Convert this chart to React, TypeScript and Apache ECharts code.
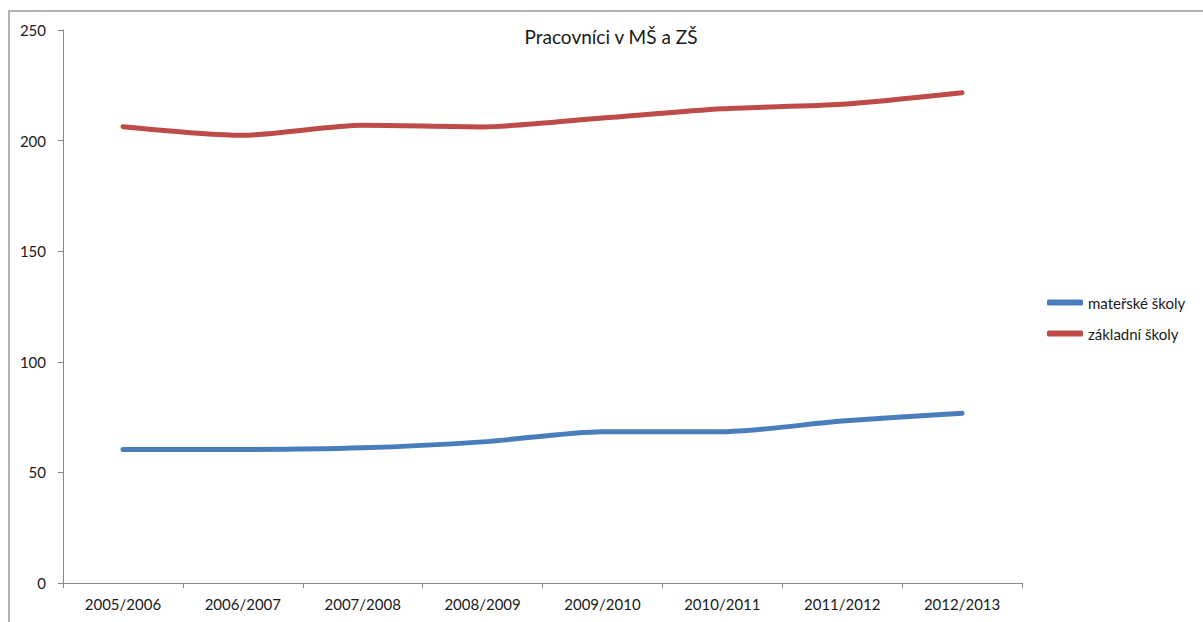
import React, { useEffect, useRef } from "react";
import * as echarts from "echarts";

const categories = ["2005/2006", "2006/2007", "2007/2008", "2008/2009", "2009/2010", "2010/2011", "2011/2012", "2012/2013"];
const materske = [60.4, 60.4, 61.1, 63.8, 68.4, 68.4, 73.2, 76.7];
const zakladni = [206.3, 202.4, 206.9, 206.2, 210.2, 214.4, 216.4, 221.6];
const seriesNames = ["mateřské školy", "základní školy"];
const titleText = "Pracovníci v MŠ a ZŠ";

const FONT = "Lato, 'Open Sans', sans-serif";

export default function App() {
  const ref = useRef<HTMLDivElement>(null);
  useEffect(() => {
    if (!ref.current) return;
    const chart = echarts.init(ref.current, undefined, { renderer: "svg" });
    chart.setOption({
      animation: false,
      backgroundColor: "#ffffff",
      textStyle: { fontFamily: FONT },
      title: {
        text: titleText,
        left: 611,
        textAlign: "center",
        top: 27,
        padding: 0,
        textStyle: { fontFamily: FONT, fontSize: 19, fontWeight: "normal", color: "#1a1a1a" },
      },
      graphic: [
        {
          type: "rect",
          shape: { x: 9, y: 11, width: 1210, height: 630 },
          style: { fill: "none", stroke: "#b3b3b3", lineWidth: 2 },
          silent: true,
        },
      ],
      legend: {
        orient: "vertical",
        left: 1047,
        top: 295,
        padding: 0,
        itemWidth: 36,
        itemHeight: 6,
        itemGap: 16,
        icon: "roundRect",
        data: seriesNames,
        textStyle: { fontFamily: FONT, fontSize: 15, color: "#1a1a1a", lineHeight: 14 },
      },
      grid: { left: 63, top: 30, right: 181, bottom: 39, containLabel: false },
      xAxis: {
        type: "category",
        data: categories,
        boundaryGap: true,
        axisLine: { lineStyle: { color: "#868686", width: 1 } },
        axisTick: { show: true, length: 5, lineStyle: { color: "#868686" } },
        axisLabel: { margin: 13, fontFamily: FONT, fontSize: 15, color: "#1a1a1a", interval: 0 },
        splitLine: { show: false },
      },
      yAxis: {
        type: "value",
        min: 0,
        max: 250,
        interval: 50,
        axisLine: { show: true, lineStyle: { color: "#868686", width: 1 } },
        axisTick: { show: true, length: 5, lineStyle: { color: "#868686" } },
        axisLabel: { margin: 17, fontFamily: FONT, fontSize: 15, color: "#1a1a1a" },
        splitLine: { show: false },
      },
      series: [
        {
          name: seriesNames[0],
          type: "line",
          data: materske,
          smooth: 0.25,
          symbol: "none",
          lineStyle: { color: "#4a7ebb", width: 5, cap: "round" },
          itemStyle: { color: "#4a7ebb" },
        },
        {
          name: seriesNames[1],
          type: "line",
          data: zakladni,
          smooth: 0.25,
          symbol: "none",
          lineStyle: { color: "#be4b48", width: 5, cap: "round" },
          itemStyle: { color: "#be4b48" },
        },
      ],
    });
    return () => chart.dispose();
  }, []);
  return (
    <div
      ref={ref}
      style={{ position: "fixed", left: 0, top: 0, width: 1203, height: 622 }}
    />
  );
}
